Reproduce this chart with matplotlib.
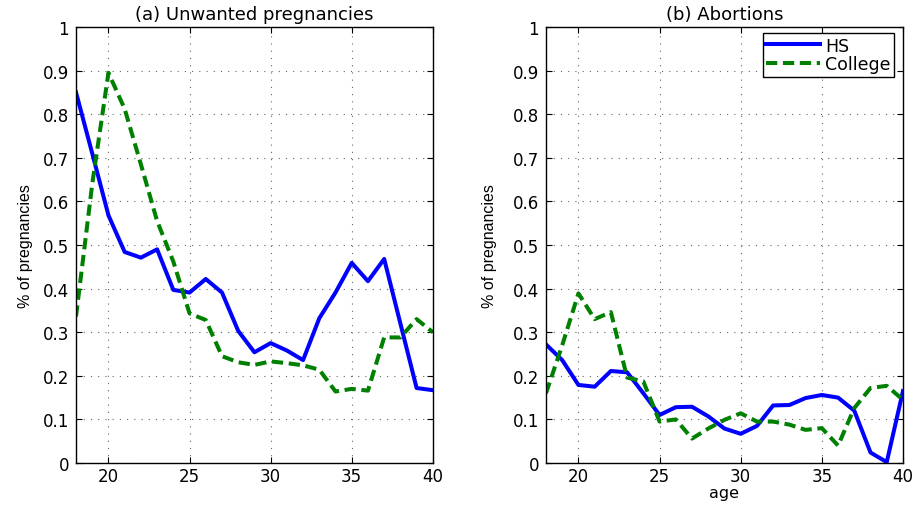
import matplotlib
matplotlib.use('Agg')
import matplotlib.pyplot as plt

ages = list(range(18, 41))

# (a) Unwanted pregnancies
unwanted_hs = [0.85, 0.71, 0.568, 0.484, 0.471, 0.490, 0.397, 0.391, 0.422, 0.391, 0.303,
               0.254, 0.275, 0.258, 0.236, 0.332, 0.391, 0.459, 0.417, 0.468, 0.32, 0.172, 0.167]
unwanted_college = [0.336, 0.64, 0.895, 0.812, 0.685, 0.555, 0.462, 0.343, 0.328, 0.245, 0.231,
                    0.225, 0.233, 0.229, 0.224, 0.214, 0.164, 0.170, 0.166, 0.288, 0.288, 0.330, 0.30]

# (b) Abortions
abort_hs = [0.272, 0.236, 0.179, 0.175, 0.211, 0.208, 0.16, 0.11, 0.128, 0.129, 0.107,
            0.079, 0.067, 0.085, 0.132, 0.133, 0.149, 0.156, 0.150, 0.120, 0.024, 0.002, 0.165]
abort_college = [0.160, 0.27, 0.389, 0.33, 0.346, 0.196, 0.187, 0.095, 0.10, 0.056, 0.079,
                 0.099, 0.114, 0.095, 0.095, 0.088, 0.076, 0.080, 0.040, 0.126, 0.172, 0.177, 0.145]

titles = ['(a) Unwanted pregnancies', '(b) Abortions']
xticks = [20, 25, 30, 35, 40]
yticks = [0, 0.1, 0.2, 0.3, 0.4, 0.5, 0.6, 0.7, 0.8, 0.9, 1]
yticklabels = ['0', '0.1', '0.2', '0.3', '0.4', '0.5', '0.6', '0.7', '0.8', '0.9', '1']

plt.rcParams['font.family'] = ['DejaVu Sans']

fig = plt.figure(figsize=(9.17, 5.06), dpi=100)
ax1 = fig.add_axes([0.0829, 0.083, 0.3891, 0.8617])
ax2 = fig.add_axes([0.5954, 0.083, 0.3893, 0.8617])

data = [(unwanted_hs, unwanted_college), (abort_hs, abort_college)]
label_x = [-0.12, -0.137]

for ax, title, (hs, col), lx in zip([ax1, ax2], titles, data, label_x):
    ax.plot(ages, hs, color='#0000ff', lw=2.9, label='HS')
    ax.plot(ages, col, color='#008000', lw=2.9, ls=(0, (2.8, 1.4)), label='College')
    ax.set_xlim(18, 40)
    ax.set_ylim(0, 1)
    ax.set_xticks(xticks)
    ax.set_yticks(yticks)
    ax.set_yticklabels(yticklabels)
    ax.grid(True, ls=(0, (1, 5.5)), color='#666666', lw=0.8)
    ax.tick_params(direction='in', top=True, right=True, length=4, labelsize=12, pad=5)
    ax.tick_params(axis='x', pad=3)
    ax.set_title(title, fontsize=13, pad=6)
    ax.set_ylabel('% of pregnancies', fontsize=11.5, family='Liberation Sans')
    ax.yaxis.set_label_coords(lx, 0.5)
    for s in ax.spines.values():
        s.set_linewidth(1.0)

ax2.set_xlabel('age', fontsize=11.5)
ax2.xaxis.set_label_coords(0.5, -0.05)
leg = ax2.legend(loc='upper right', bbox_to_anchor=(0.975, 0.986), borderaxespad=0,
                 fancybox=False, edgecolor='black', framealpha=1,
                 fontsize=12.5, handlelength=3.1, handletextpad=0.3, borderpad=0.2,
                 labelspacing=0.05)
leg.get_frame().set_linewidth(1.0)

fig.savefig('out.png', dpi=100)
